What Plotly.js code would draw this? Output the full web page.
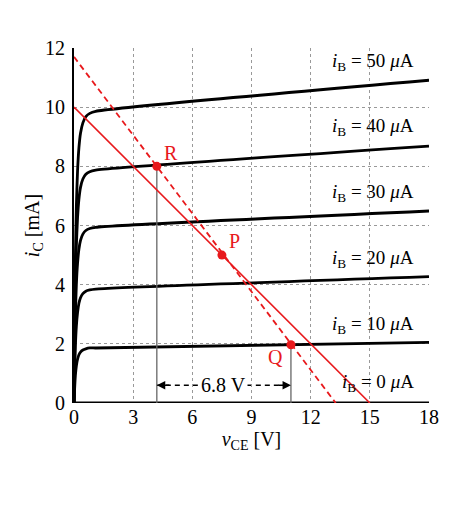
<!DOCTYPE html>
<html>
<head>
<meta charset="utf-8">
<script src="https://cdn.plot.ly/plotly-3.0.1.min.js"></script>
<style>html,body{margin:0;padding:0;background:#fff;}#chart{width:464px;height:508px;}</style>
</head>
<body>
<div id="chart"></div>
<script>
// Collector voltage samples (V)
const vCE = [0, 0.03, 0.07, 0.12, 0.18, 0.25, 0.33, 0.45, 0.6, 0.8, 1.1, 18];
// Collector current curves (mA) per base current
const iB50 = [0, 2.45, 4.90, 6.66, 7.84, 8.63, 9.12, 9.47, 9.68, 9.79, 9.86, 10.91];
const iB40 = [0, 1.96, 3.91, 5.32, 6.26, 6.89, 7.29, 7.57, 7.73, 7.82, 7.87, 8.68];
const iB30 = [0, 1.48, 2.95, 4.01, 4.72, 5.20, 5.50, 5.71, 5.83, 5.90, 5.94, 6.49];
const iB20 = [0, 0.96, 1.91, 2.60, 3.06, 3.37, 3.56, 3.70, 3.78, 3.82, 3.85, 4.27];
const iB10 = [0, 0.46, 0.93, 1.26, 1.48, 1.63, 1.72, 1.79, 1.83, 1.86, 1.86, 2.05];
const iB0x = [0, 18];
const iB0y = [0, 0];
// Load lines
const loadSolidX = [0, 15];
const loadSolidY = [10, 0];
const loadDashX = [0, 13.27];
const loadDashY = [11.7, 0];
// Operating points
const ptNames = ['R', 'P', 'Q'];
const ptX = [4.2, 7.5, 11.0];
const ptY = [8.0, 5.0, 1.97];
// Curve labels
const curveLabels = ['50', '40', '30', '20', '10', '0'];
const curveLabelY = [11.52, 9.32, 7.09, 4.86, 2.64, 0.68];
const xTicks = [0, 3, 6, 9, 12, 15, 18];
const yTicks = [0, 2, 4, 6, 8, 10, 12];
const deltaText = '6.8 V';
const arrowY = 0.6;

const serif = '"Liberation Serif", serif';
const red = '#e8191c';
const curveStyle = {color: '#000', width: 2.8, shape: 'spline', smoothing: 0.6};

const traces = [];
[iB50, iB40, iB30, iB20, iB10].forEach(ys => {
  traces.push({x: vCE, y: ys, mode: 'lines', line: curveStyle, hoverinfo: 'skip'});
});
traces.push({x: iB0x, y: iB0y, mode: 'lines', line: {color: '#000', width: 2.8}, hoverinfo: 'skip'});
traces.push({x: [ptX[0], ptX[0]], y: [0, ptY[0]], mode: 'lines', line: {color: '#666', width: 1.3}, hoverinfo: 'skip'});
traces.push({x: [ptX[2], ptX[2]], y: [0, ptY[2]], mode: 'lines', line: {color: '#666', width: 1.3}, hoverinfo: 'skip'});
traces.push({x: loadSolidX, y: loadSolidY, mode: 'lines', line: {color: red, width: 1.6}, hoverinfo: 'skip'});
traces.push({x: loadDashX, y: loadDashY, mode: 'lines', line: {color: red, width: 1.8, dash: '6px,4px'}, hoverinfo: 'skip'});
traces.push({x: ptX, y: ptY, mode: 'markers', marker: {color: red, size: 9}, hoverinfo: 'skip'});

const annotations = [];
curveLabels.forEach((lab, k) => {
  annotations.push({x: 17.35, y: curveLabelY[k], xref: 'x', yref: 'y', xanchor: 'right', yanchor: 'middle',
    text: '<i>i</i><sub>B</sub> = ' + lab + ' <i>μ</i>A', showarrow: false,
    font: {family: serif, size: 19, color: '#000'}});
});
const ptLabOff = [[0.7, 0.45], [0.62, 0.47], [-0.8, -0.42]];
ptNames.forEach((n, k) => {
  annotations.push({x: ptX[k] + ptLabOff[k][0], y: ptY[k] + ptLabOff[k][1], xref: 'x', yref: 'y',
    text: n, showarrow: false, font: {family: serif, size: 20, color: red}});
});
const midX = (ptX[0] + ptX[2]) / 2;
annotations.push({x: midX, y: arrowY, xref: 'x', yref: 'y', text: deltaText, showarrow: false,
  font: {family: serif, size: 20, color: '#000'}, bgcolor: '#fff', borderpad: 1});
annotations.push({x: ptX[0], y: arrowY, xref: 'x', yref: 'y', ax: 14, ay: 0, showarrow: true,
  arrowhead: 2, arrowsize: 1.2, arrowwidth: 1.4, arrowcolor: '#000', text: ''});
annotations.push({x: ptX[2], y: arrowY, xref: 'x', yref: 'y', ax: -14, ay: 0, showarrow: true,
  arrowhead: 2, arrowsize: 1.2, arrowwidth: 1.4, arrowcolor: '#000', text: ''});

const shapes = [
  {type: 'line', xref: 'x', yref: 'y', x0: ptX[0], x1: ptX[2], y0: arrowY, y1: arrowY,
   line: {color: '#000', width: 1.4, dash: '5px,4px'}, layer: 'below'}
];

const layout = {
  width: 464, height: 508,
  margin: {l: 74, r: 35, t: 47.5, b: 105},
  paper_bgcolor: '#fff', plot_bgcolor: '#fff',
  showlegend: false,
  font: {family: serif, size: 20, color: '#000'},
  xaxis: {range: [0, 18], tickvals: xTicks, ticktext: xTicks.map(String), showgrid: true,
    gridcolor: '#999', griddash: 'dot', gridwidth: 1, zeroline: false, showline: false,
    ticks: '', tickfont: {family: serif, size: 20, color: '#000'},
    title: {text: '<i>v</i><sub>CE</sub> [V]', font: {family: serif, size: 20, color: '#000'}, standoff: 0}},
  yaxis: {range: [0, 12], tickvals: yTicks, ticktext: yTicks.map(String), showgrid: true,
    gridcolor: '#999', griddash: 'dot', gridwidth: 1, zeroline: false, showline: true,
    linecolor: '#000', linewidth: 2, ticks: 'outside', ticklen: 3, tickcolor: 'rgba(0,0,0,0)',
    tickfont: {family: serif, size: 20, color: '#000'},
    title: {text: '<i>i</i><sub>C</sub> [mA]', font: {family: serif, size: 20, color: '#000'}, standoff: 0}},
  annotations: annotations,
  shapes: shapes
};

Plotly.newPlot('chart', traces, layout, {displayModeBar: false, staticPlot: true});
</script>
</body>
</html>
